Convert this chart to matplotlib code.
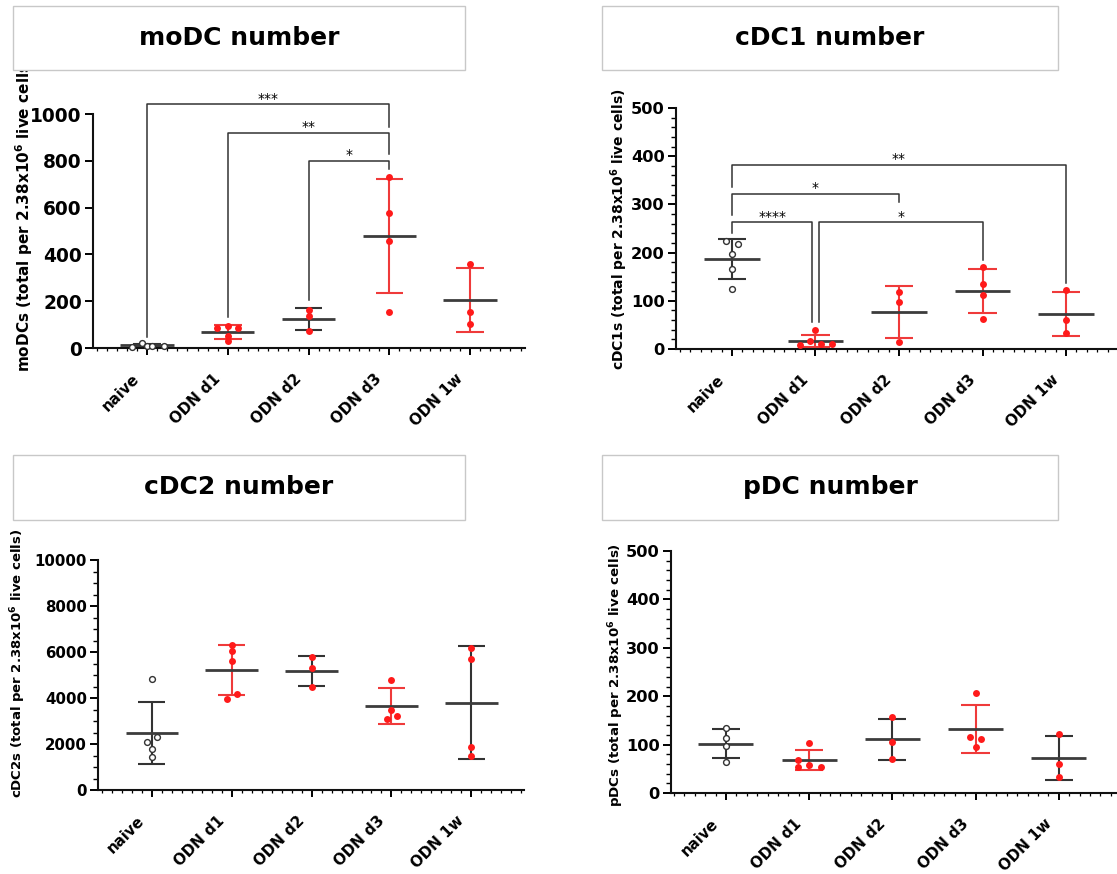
import matplotlib.pyplot as plt
import numpy as np
from matplotlib.patches import Rectangle
from matplotlib.ticker import MultipleLocator
from matplotlib.transforms import ScaledTranslation

plt.rcParams['font.family'] = 'DejaVu Sans'
plt.rcParams['font.weight'] = 'bold'
plt.rcParams['mathtext.fontset'] = 'dejavusans'

groups = ['naive', 'ODN d1', 'ODN d2', 'ODN d3', 'ODN 1w']

# ---- moDC number ----
modc_naive = [6, 21, 9, 8, 10]
modc_d1 = [95, 85, 85, 50, 28]
modc_d2 = [164, 135, 71]
modc_d3 = [729, 577, 459, 152]
modc_1w = [359, 155, 103]

# ---- cDC1 number ----
cdc1_naive = [225, 218, 197, 167, 125]
cdc1_d1 = [39, 17, 9, 10, 11]
cdc1_d2 = [118, 97, 15]
cdc1_d3 = [170, 135, 113, 62]
cdc1_1w = [122, 61, 33]

# ---- cDC2 number ----
cdc2_naive = [4826, 2319, 2101, 1768, 1449]
cdc2_d1 = [6304, 6043, 5623, 4159, 3957]
cdc2_d2 = [5768, 5290, 4493]
cdc2_d3 = [4797, 3478, 3232, 3072]
cdc2_1w = [6160, 5681, 1884, 1478]

# ---- pDC number ----
pdc_naive = [134, 113, 98, 64]
pdc_d1 = [103, 69, 58, 54, 53]
pdc_d2 = [156, 105, 71]
pdc_d3 = [207, 115, 111, 96]
pdc_1w = [122, 60, 34]

# significance brackets: (x1, x2, bar height, left leg end, right leg end, label)
modc_sig = [(0, 3, 1043, 47, 944, '***'),
            (1, 3, 920, 132, 829, '**'),
            (2, 3, 800, 205, 765, '*')]
cdc1_sig = [(0, 4, 382, 336, 137, '**'),
            (0, 2, 322, 277, 304, '*'),
            (0, 0.96, 263, 240, 57, '****'),
            (1.04, 3, 263, 57, 185, '*')]

# horizontal scatter of points inside each column (layout only)
modc_off = [[-0.19, -0.06, 0, 0.06, 0.21], [0, -0.14, 0.12, 0, 0], [0]*3, [0]*4, [0]*3]
cdc1_off = [[-0.07, 0.07, 0, 0, 0], [0, -0.07, -0.19, 0.07, 0.2], [0]*3, [0]*4, [0]*3]
cdc2_off = [[0, 0.06, -0.06, 0, 0], [0, 0, 0, 0.07, -0.06], [0]*3, [0, 0, 0.07, -0.06], [0]*4]
pdc_off = [[0]*4, [0, -0.13, 0, -0.13, 0.14], [0]*3, [0, -0.07, 0.07, 0], [0]*3]

RED = '#ff1a1a'
ERR_RED = '#ef3a3a'
DARK = '#333333'

W, H = 1117, 874
fig = plt.figure(figsize=(W / 100, H / 100), dpi=100)


def px_axes(left, top, right, bottom):
    return fig.add_axes([left / W, 1 - bottom / H, (right - left) / W, (bottom - top) / H])


def draw_group(ax, i, vals, offs, naive, ecol):
    vals = np.asarray(vals, float)
    m = vals.mean()
    sd = vals.std(ddof=1)
    ax.vlines(i, m - sd, m + sd, color=ecol, lw=1.5, zorder=2)
    ax.hlines([m - sd, m + sd], i - 0.17, i + 0.17, color=ecol, lw=1.5, zorder=2)
    ax.hlines(m, i - 0.33, i + 0.33, color='#3c3c3c', lw=2.0, zorder=2)
    x = i + np.asarray(offs)
    if naive:
        ax.plot(x, vals, 'o', ms=4.2, mfc='white', mec=DARK, mew=1.0, zorder=3, clip_on=False)
    else:
        ax.plot(x, vals, 'o', ms=5, color=RED, mec='none', zorder=3, clip_on=False)


def draw_sig(ax, sigs, fs):
    for x1, x2, y, yl, yr, txt in sigs:
        ax.plot([x1, x1, x2, x2], [yl, y, y, yr], color=DARK, lw=1.1, clip_on=False, zorder=4)
        ax.annotate(txt, ((x1 + x2) / 2, y), xytext=(0, 1), textcoords='offset points',
                    ha='center', va='baseline', fontsize=fs, fontweight='normal',
                    annotation_clip=False)


def style_axes(ax, xlim, ymax, ystep, yminor, ytick_fs):
    ax.set_xlim(*xlim)
    ax.set_ylim(0, ymax)
    for s in ['top', 'right']:
        ax.spines[s].set_visible(False)
    for s in ['left', 'bottom']:
        ax.spines[s].set_linewidth(1.5)
        ax.spines[s].set_color('#111111')
    ax.set_yticks(np.arange(0, ymax + 1, ystep))
    if yminor:
        ax.yaxis.set_minor_locator(MultipleLocator(yminor))
    ax.set_xticks(range(len(groups)))
    ax.xaxis.set_minor_locator(MultipleLocator(0.125))
    ax.set_xticklabels(groups, rotation=45, ha='right', va='top', rotation_mode='anchor',
                       fontsize=10.8, fontweight='bold')
    ax.tick_params(axis='y', which='major', length=6, width=1.4, labelsize=ytick_fs, pad=2)
    ax.tick_params(axis='y', which='minor', length=3.5, width=1.0)
    ax.tick_params(axis='x', which='major', length=5, width=1.4, pad=9)
    ax.tick_params(axis='x', which='minor', length=2.5, width=0.9)
    for lbl in ax.get_yticklabels():
        lbl.set_fontweight('bold')
    # nudge the slanted labels left/down like the Prism export
    shift = ScaledTranslation(-15 / 100, -4 / 100, fig.dpi_scale_trans)
    for lbl in ax.get_xticklabels():
        lbl.set_transform(lbl.get_transform() + shift)
    ax.patch.set_alpha(0)


def title_box(x1, y1, x2, y2, text):
    fig.add_artist(Rectangle((x1 / W, 1 - y2 / H), (x2 - x1) / W, (y2 - y1) / H,
                             transform=fig.transFigure, facecolor='white',
                             edgecolor='#c8c8c8', lw=1.0, zorder=10))
    fig.text((x1 + x2) / 2 / W, 1 - (y1 + y2) / 2 / H, text, ha='center', va='center',
             fontsize=18, fontweight='bold', zorder=11)


def y_label(xc, ybottom, text, fs):
    fig.text(xc / W, 1 - ybottom / H, text, rotation=90, ha='center', va='bottom',
             fontsize=fs, fontweight='bold', zorder=5)


sup = r'2.38x10$^{\mathbf{6}}$'

panels = [
    dict(rect=(93, 114, 525, 348), xlim=(-0.67, 4.68), ymax=1000, ystep=200, yminor=None,
         tfs=13.4, data=[modc_naive, modc_d1, modc_d2, modc_d3, modc_1w], offs=modc_off,
         ecols=[DARK, ERR_RED, DARK, ERR_RED, ERR_RED], sig=modc_sig,
         box=(13, 6, 465, 70, 'moDC number'),
         lab=(24, 372, 'moDCs (total per ' + sup + ' live cells)', 11)),
    dict(rect=(676, 108, 1117, 349), xlim=(-0.67, 4.61), ymax=500, ystep=100, yminor=20,
         tfs=11.7, data=[cdc1_naive, cdc1_d1, cdc1_d2, cdc1_d3, cdc1_1w], offs=cdc1_off,
         ecols=[DARK, ERR_RED, ERR_RED, ERR_RED, ERR_RED], sig=cdc1_sig,
         box=(602, 6, 1058, 70, 'cDC1 number'),
         lab=(619, 370, 'cDC1s (total per ' + sup + ' live cells)', 10)),
    dict(rect=(98, 560, 524, 790), xlim=(-0.675, 4.66), ymax=10000, ystep=2000, yminor=500,
         tfs=10.8, data=[cdc2_naive, cdc2_d1, cdc2_d2, cdc2_d3, cdc2_1w], offs=cdc2_off,
         ecols=[DARK, ERR_RED, DARK, ERR_RED, DARK], sig=[],
         box=(13, 455, 465, 520, 'cDC2 number'),
         lab=(18, 798, 'cDC2s (total per ' + sup + ' live cells)', 9.5)),
    dict(rect=(671, 551, 1117, 793), xlim=(-0.66, 4.7), ymax=500, ystep=100, yminor=20,
         tfs=11.7, data=[pdc_naive, pdc_d1, pdc_d2, pdc_d3, pdc_1w], offs=pdc_off,
         ecols=[DARK, ERR_RED, DARK, ERR_RED, DARK], sig=[],
         box=(602, 455, 1058, 520, 'pDC number'),
         lab=(616, 807, 'pDCs (total per ' + sup + ' live cells)', 9.6)),
]

for p in panels:
    ax = px_axes(*p['rect'])
    for i, (vals, offs, ec) in enumerate(zip(p['data'], p['offs'], p['ecols'])):
        draw_group(ax, i, vals, offs, i == 0, ec)
    draw_sig(ax, p['sig'], 10)
    style_axes(ax, p['xlim'], p['ymax'], p['ystep'], p['yminor'], p['tfs'])
    title_box(*p['box'])
    y_label(*p['lab'])

fig.savefig('out.png', dpi=100, facecolor='white')
